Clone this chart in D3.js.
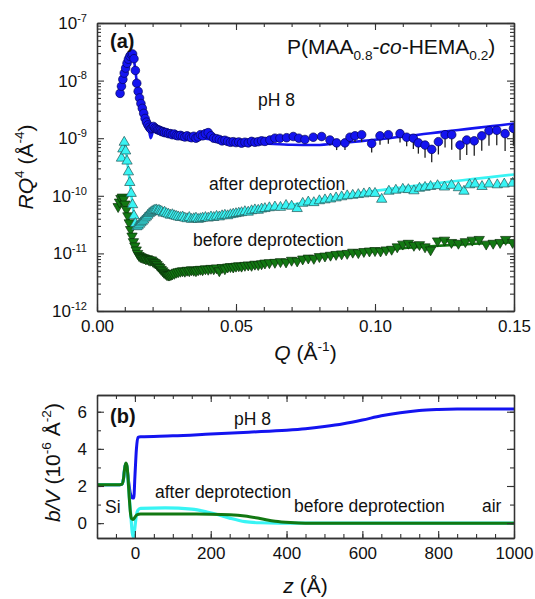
<!DOCTYPE html>
<html>
<head>
<meta charset="utf-8">
<script src="https://cdn.jsdelivr.net/npm/d3@7"></script>
<style>
body { margin: 0; background: #fff; }
text { font-family: "Liberation Sans", Arial, sans-serif; fill: #111; }
</style>
</head>
<body>
<div id="chart"></div>
<script>
// reflectivity data, [Q, RQ^4, relative lower error]
var ph8Data = [[0.0083,6.0e-9,0],[0.0088,8.0e-9,0],[0.0093,1.05e-8,0],[0.0098,1.35e-8,0],[0.0103,1.65e-8,0],[0.0108,2.0e-8,0],[0.0113,2.35e-8,0],[0.0118,2.65e-8,0],[0.0123,2.85e-8,0],[0.0128,2.9e-8,0],
  [0.0133,2.4e-8,0],[0.0138,1.5e-8,0],[0.0143,9.0e-9,0],[0.0148,6.5e-9,0],[0.0153,5.0e-9,0],[0.0158,4.0e-9,0],[0.0163,3.3e-9,0],[0.0168,2.7e-9,0],[0.0173,2.2e-9,0],[0.0178,1.9e-9,0],
  [0.0183,1.7e-9,0],[0.0188,1.55e-9,0],[0.0193,1.45e-9,0],[0.0198,1.5e-9,0],[0.0203,1.6e-9,0],[0.0208,1.5e-9,0],[0.0213,1.45e-9,0],[0.0218,1.4e-9,0],[0.0223,1.38e-9,0],[0.0228,1.35e-9,0],
  [0.0233,1.3e-9,0],[0.0238,1.3e-9,0],[0.0243,1.25e-9,0],[0.0250,1.25e-9,0],[0.0257,1.2e-9,0],[0.0264,1.2e-9,0],[0.0271,1.15e-9,0],[0.0278,1.18e-9,0],[0.0285,1.12e-9,0],[0.0292,1.1e-9,0],
  [0.0300,1.12e-9,0],[0.0308,1.08e-9,0],[0.0316,1.05e-9,0],[0.0324,1.1e-9,0],[0.0332,1.05e-9,0],[0.0340,1.02e-9,0],[0.0348,1.08e-9,0],[0.0356,1.0e-9,0],[0.0364,1.05e-9,0],[0.0372,1.15e-9,0],
  [0.0380,1.1e-9,0],[0.0390,1.2e-9,0],[0.0400,1.25e-9,0],[0.0410,1.1e-9,0],[0.0420,1.0e-9,0],[0.0430,0.98e-9,0],[0.0440,0.95e-9,0],[0.0450,0.9e-9,0],[0.0460,0.92e-9,0],[0.0470,0.88e-9,0],
  [0.0480,0.85e-9,0],[0.0490,0.87e-9,0],[0.0500,0.84e-9,0],[0.0510,0.86e-9,0],[0.0520,0.82e-9,0],[0.0532,0.85e-9,0],[0.0544,0.83e-9,0],[0.0556,0.88e-9,0],[0.0568,0.85e-9,0],[0.0580,0.87e-9,0],
  [0.0592,0.9e-9,0],[0.0604,0.88e-9,0],[0.0622,0.93e-9,0.1],[0.0640,1.0e-9,0.1],[0.0658,1.0e-9,0.1],[0.0682,1.02e-9,0.1],[0.0706,1.07e-9,0.12],[0.0726,1.0e-9,0.12],[0.0748,0.95e-9,0.15],[0.0778,1.04e-9,0.15],
  [0.0808,1.07e-9,0.15],[0.0838,0.93e-9,0.2],[0.0862,0.83e-9,0.25],[0.0892,0.83e-9,0.25],[0.0910,1.04e-9,0.2],[0.0928,1.1e-9,0.22],[0.0952,1.15e-9,0.25],[0.0988,0.81e-9,0.3],[0.1018,1.1e-9,0.3],[0.1048,1.15e-9,0.3],
  [0.1090,1.2e-9,0.3],[0.1114,1.04e-9,0.3],[0.1138,1.0e-9,0.35],[0.1156,0.83e-9,0.35],[0.1180,0.76e-9,0.4],[0.1204,0.64e-9,0.4],[0.1228,0.87e-9,0.4],[0.1252,1.15e-9,0.4],[0.1276,1.15e-9,0.45],[0.1306,0.76e-9,0.45],
  [0.1330,0.93e-9,0.45],[0.1357,0.9e-9,0.45],[0.1384,1.1e-9,0.45],[0.1410,1.35e-9,0.45],[0.1438,1.37e-9,0.45],[0.1468,1.2e-9,0.5],[0.1498,1.48e-9,0.5]];

var ph8Fit = [[0.0083,5.5e-9],[0.0095,1.15e-8],[0.0110,2.1e-8],[0.0122,2.8e-8],[0.0129,3.0e-8],[0.0136,1.8e-8],[0.0145,8.0e-9],[0.0155,4.3e-9],[0.0165,2.9e-9],[0.0175,2.0e-9],
  [0.0185,1.6e-9],[0.0193,1.0e-9],[0.0201,1.3e-9],[0.0210,1.6e-9],[0.0225,1.45e-9],[0.025,1.3e-9],[0.030,1.15e-9],[0.035,1.05e-9],[0.040,0.97e-9],[0.045,0.9e-9],
  [0.050,0.85e-9],[0.055,0.83e-9],[0.060,0.81e-9],[0.070,0.77e-9],[0.078,0.76e-9],[0.085,0.8e-9],[0.090,0.84e-9],[0.095,0.89e-9],[0.100,0.94e-9],[0.105,1.0e-9],
  [0.110,1.07e-9],[0.115,1.14e-9],[0.120,1.22e-9],[0.125,1.3e-9],[0.130,1.39e-9],[0.135,1.48e-9],[0.140,1.58e-9],[0.145,1.68e-9],[0.150,1.8e-9]];

var afterData = [[0.0088,4.5e-10],[0.0093,6.5e-10],[0.0098,8.5e-10],[0.0103,6.0e-10],[0.0108,4.0e-10],[0.0113,2.6e-10],[0.0118,1.7e-10],[0.0123,1.1e-10],[0.0128,7e-11],[0.0133,4.5e-11],
  [0.0138,3.3e-11],[0.0143,2.9e-11],[0.0148,3.0e-11],[0.0153,3.2e-11],[0.0158,3.4e-11],[0.0163,3.6e-11],[0.0168,3.8e-11],[0.0173,4.1e-11],[0.0178,4.3e-11],[0.0183,4.6e-11],
  [0.0188,4.9e-11],[0.0193,5.1e-11],[0.0198,5.3e-11],[0.0203,5.5e-11],[0.0208,5.6e-11],[0.0213,5.7e-11],[0.0218,5.5e-11],[0.0223,5.6e-11],[0.0228,5.4e-11],[0.0233,5.3e-11],
  [0.0238,5.0e-11],[0.0243,5.2e-11],[0.0250,4.9e-11],[0.0257,4.8e-11],[0.0264,4.6e-11],[0.0271,4.7e-11],[0.0278,4.5e-11],[0.0285,4.4e-11],[0.0292,4.3e-11],[0.0300,4.2e-11],
  [0.0308,4.3e-11],[0.0316,4.1e-11],[0.0324,4.0e-11],[0.0332,4.2e-11],[0.0340,3.9e-11],[0.0348,4.0e-11],[0.0356,4.1e-11],[0.0364,3.9e-11],[0.0372,4.0e-11],[0.0380,4.1e-11],
  [0.0390,4.2e-11],[0.0400,4.1e-11],[0.0410,4.3e-11],[0.0420,4.2e-11],[0.0430,4.4e-11],[0.0440,4.3e-11],[0.0450,4.5e-11],[0.0460,4.6e-11],[0.0470,4.5e-11],[0.0480,4.7e-11],
  [0.0490,4.8e-11],[0.0500,4.9e-11],[0.0510,5.0e-11],[0.0520,5.1e-11],[0.0532,5.3e-11],[0.0544,5.2e-11],[0.0556,5.5e-11],[0.0568,5.7e-11],[0.0580,5.6e-11],[0.0592,5.9e-11],
  [0.0604,6.0e-11],[0.0620,6.2e-11],[0.0640,6.4e-11],[0.0660,6.3e-11],[0.0680,6.8e-11],[0.0700,6.6e-11],[0.0720,6.0e-11],[0.0740,7.4e-11],[0.0760,7.8e-11],[0.0780,7.6e-11],
  [0.0800,8.2e-11],[0.0820,8.5e-11],[0.0840,8.8e-11],[0.0860,9.2e-11],[0.0880,9.6e-11],[0.0900,1.0e-10],[0.0920,1.02e-10],[0.0940,1.05e-10],[0.0960,1.08e-10],[0.0980,1.12e-10],
  [0.1000,1.1e-10],[0.1024,8.7e-11],[0.1050,1.2e-10],[0.1075,1.25e-10],[0.1100,1.3e-10],[0.1120,1.28e-10],[0.1140,1.22e-10],[0.1160,1.35e-10],[0.1180,1.4e-10],[0.1200,1.45e-10],
  [0.1225,1.5e-10],[0.1250,1.42e-10],[0.1275,1.52e-10],[0.1300,1.38e-10],[0.1320,1.2e-10],[0.1340,1.55e-10],[0.1360,1.6e-10],[0.1385,1.45e-10],[0.1410,1.6e-10],[0.1440,1.55e-10],
  [0.1465,1.6e-10],[0.1495,1.65e-10]];

var afterFit = [[0.0088,4.5e-10],[0.0098,8.5e-10],[0.0110,3.5e-10],[0.0125,9e-11],[0.0138,3.5e-11],[0.0150,3.0e-11],[0.0165,3.5e-11],[0.018,4.4e-11],[0.020,5.3e-11],[0.022,5.6e-11],
  [0.025,5.0e-11],[0.030,4.3e-11],[0.035,4.0e-11],[0.040,4.1e-11],[0.045,4.4e-11],[0.050,4.8e-11],[0.055,5.3e-11],[0.060,5.9e-11],[0.070,7.0e-11],[0.080,8.4e-11],
  [0.090,1.02e-10],[0.100,1.22e-10],[0.110,1.4e-10],[0.120,1.6e-10],[0.130,1.83e-10],[0.140,2.07e-10],[0.150,2.35e-10]];

var beforeData = [[0.0076,6.5e-11],[0.0081,7.8e-11],[0.0086,9.0e-11],[0.0091,9.5e-11],[0.0096,8.8e-11],[0.0101,7.2e-11],[0.0106,5.8e-11],[0.0111,4.5e-11],[0.0116,3.4e-11],[0.0121,2.6e-11],
  [0.0126,2.0e-11],[0.0131,1.6e-11],[0.0136,1.35e-11],[0.0141,1.15e-11],[0.0146,1.0e-11],[0.0151,9.2e-12],[0.0156,8.8e-12],[0.0161,8.6e-12],[0.0166,8.4e-12],[0.0171,8.3e-12],
  [0.0176,8.0e-12],[0.0181,8.1e-12],[0.0186,7.8e-12],[0.0191,7.6e-12],[0.0196,7.7e-12],[0.0201,7.3e-12],[0.0206,7.0e-12],[0.0211,6.8e-12],[0.0216,6.4e-12],[0.0221,6.0e-12],
  [0.0226,5.7e-12],[0.0231,5.3e-12],[0.0236,5.0e-12],[0.0241,4.7e-12],[0.0246,4.5e-12],[0.0251,4.3e-12],[0.0256,4.2e-12],[0.0261,4.2e-12],[0.0266,4.3e-12],[0.0271,4.4e-12],
  [0.0278,4.5e-12],[0.0285,4.7e-12],[0.0292,4.8e-12],[0.0300,4.9e-12],[0.0308,5.0e-12],[0.0316,4.9e-12],[0.0324,5.1e-12],[0.0332,5.0e-12],[0.0340,5.2e-12],[0.0348,5.1e-12],
  [0.0356,5.0e-12],[0.0364,5.2e-12],[0.0372,5.3e-12],[0.0380,5.2e-12],[0.0390,5.4e-12],[0.0400,5.3e-12],[0.0410,5.5e-12],[0.0420,5.4e-12],[0.0430,5.6e-12],[0.0440,5.0e-12],
  [0.0450,5.7e-12],[0.0460,5.4e-12],[0.0470,5.8e-12],[0.0480,5.9e-12],[0.0490,5.8e-12],[0.0500,6.0e-12],[0.0510,6.1e-12],[0.0520,6.0e-12],[0.0532,6.2e-12],[0.0544,6.3e-12],
  [0.0556,6.2e-12],[0.0568,6.5e-12],[0.0580,6.4e-12],[0.0592,6.6e-12],[0.0604,6.8e-12],[0.0620,6.9e-12],[0.0640,7.0e-12],[0.0660,7.2e-12],[0.0680,7.1e-12],[0.0700,7.6e-12],
  [0.0720,7.4e-12],[0.0740,8.0e-12],[0.0760,8.3e-12],[0.0780,8.2e-12],[0.0800,8.8e-12],[0.0820,9.0e-12],[0.0840,9.3e-12],[0.0860,9.6e-12],[0.0880,9.8e-12],[0.0900,1.0e-11],
  [0.0920,1.05e-11],[0.0940,1.03e-11],[0.0960,1.08e-11],[0.0980,1.1e-11],[0.1000,1.12e-11],[0.1020,1.1e-11],[0.1040,1.15e-11],[0.1060,1.18e-11],[0.1080,1.3e-11],[0.1100,1.45e-11],
  [0.1120,1.5e-11],[0.1140,1.38e-11],[0.1160,1.42e-11],[0.1180,1.3e-11],[0.1200,1.15e-11],[0.1225,1.65e-11],[0.1250,1.7e-11],[0.1275,1.55e-11],[0.1300,1.5e-11],[0.1325,1.6e-11],
  [0.1350,1.7e-11],[0.1375,1.75e-11],[0.1400,1.45e-11],[0.1425,1.5e-11],[0.1450,1.55e-11],[0.1470,1.75e-11],[0.1495,1.55e-11]];

var beforeFit = [[0.0076,6.5e-11],[0.0090,9.5e-11],[0.0100,7.5e-11],[0.0115,3.5e-11],[0.0130,1.6e-11],[0.0145,1.0e-11],[0.016,8.6e-12],[0.019,7.8e-12],[0.022,6.0e-12],[0.025,4.4e-12],
  [0.027,4.3e-12],[0.030,4.8e-12],[0.035,5.1e-12],[0.040,5.3e-12],[0.050,5.9e-12],[0.060,6.7e-12],[0.070,7.6e-12],[0.080,8.6e-12],[0.090,9.8e-12],[0.100,1.1e-11],
  [0.110,1.23e-11],[0.120,1.33e-11],[0.130,1.42e-11],[0.140,1.5e-11],[0.150,1.55e-11]];

// scattering length density profiles, [z, b/V]
var ph8Profile = [[-100,2.07],[-40,2.07],[-34,2.1],[-30,2.4],[-27,2.95],[-24,3.2],[-21,3.0],[-17,2.3],[-12,1.6],[-6,1.35],[-3,1.35],[0,2.5],[4,4.0],[8,4.62],[15,4.65],
  [100,4.7],[200,4.8],[300,4.9],[400,5.0],[450,5.08],[500,5.2],[550,5.35],[600,5.55],[650,5.78],[700,5.95],[750,6.07],[800,6.12],[850,6.14],[1000,6.14]];
var afterProfile = [[-100,2.07],[-40,2.07],[-34,2.1],[-30,2.4],[-27,2.95],[-24,3.2],[-21,3.05],[-18,2.3],[-14,1.2],[-10,0.2],[-7,-0.5],[-4,-0.76],[-1,-0.4],[3,0.3],[8,0.7],
  [15,0.8],[80,0.82],[150,0.75],[190,0.6],[220,0.45],[250,0.27],[290,0.08],[330,0.02],[380,0],[1000,0]];
var beforeProfile = [[-100,2.07],[-40,2.07],[-34,2.1],[-30,2.4],[-27,2.95],[-24,3.24],[-21,3.1],[-18,2.4],[-15,1.4],[-12,0.6],[-9,0.25],[-5,0.2],[0,0.32],[5,0.45],[15,0.49],
  [100,0.49],[200,0.48],[250,0.45],[290,0.38],[330,0.25],[370,0.1],[410,0.03],[450,0],[1000,0]];

var qTicks = [0, 0.05, 0.10, 0.15];
var decadeTicks = [1e-12, 1e-11, 1e-10, 1e-9, 1e-8, 1e-7];
var zTicks = [0, 200, 400, 600, 800, 1000];
var sldTicks = [0, 2, 4, 6];

var blueCol = "#1414f0", cyanCol = "#38f4f4", greenCol = "#127812";

var svgWidth = 535, svgHeight = 599;
var svg = d3.select("#chart").append("svg").attr("width", svgWidth).attr("height", svgHeight);

// panel geometry
var left = 97, right = 514;
var topA = 23, botA = 311;
var topB = 395, botB = 538;

var xQ = d3.scaleLinear().domain([0, 0.15]).range([left, right]);
var yR = d3.scaleLog().domain([1e-12, 1e-7]).range([botA, topA]);
var xZ = d3.scaleLinear().domain([-100, 1000]).range([left, right]);
var yS = d3.scaleLinear().domain([-0.8, 6.9]).range([botB, topB]);

// helper for text with super/subscripts
function richText(sel, parts, size) {
  var shift = 0;
  parts.forEach(function(p) {
    var target = 0, fs = size;
    if (p.sup) { target = -size * 0.42; fs = size * 0.65; }
    if (p.sub) { target = size * 0.28; fs = size * 0.65; }
    var t = sel.append("tspan").text(p.t).attr("dy", target - shift).style("font-size", fs + "px");
    if (p.it) t.style("font-style", "italic");
    shift = target;
  });
  return sel;
}

function styleAxis(g) {
  g.selectAll("path.domain").attr("stroke", "#333").attr("stroke-width", 1.3);
  g.selectAll(".tick line").attr("stroke", "#333").attr("stroke-width", 1.1);
  g.selectAll(".tick text").style("font-size", "17px").style("font-family", "Liberation Sans, Arial, sans-serif").attr("fill", "#111");
}

// draws inward ticks on all four sides
function frame(x, y, x0, x1, y0, y1, xMajor, xMinor, yMajor, yMinor, xFmt) {
  var g = svg.append("g");
  g.append("g").attr("transform", `translate(0,${y0})`)
    .call(d3.axisBottom(x).tickValues(xMinor).tickSize(-4).tickSizeOuter(0).tickFormat("")).call(styleAxis);
  g.append("g").attr("transform", `translate(0,${y0})`)
    .call(d3.axisBottom(x).tickValues(xMajor).tickSize(-7).tickSizeOuter(0).tickPadding(9).tickFormat(xFmt)).call(styleAxis);
  g.append("g").attr("transform", `translate(0,${y1})`)
    .call(d3.axisTop(x).tickValues(xMinor).tickSize(-4).tickSizeOuter(0).tickFormat("")).call(styleAxis);
  g.append("g").attr("transform", `translate(0,${y1})`)
    .call(d3.axisTop(x).tickValues(xMajor).tickSize(-7).tickSizeOuter(0).tickFormat("")).call(styleAxis);
  g.append("g").attr("transform", `translate(${x0},0)`)
    .call(d3.axisLeft(y).tickValues(yMinor).tickSize(-4).tickSizeOuter(0).tickFormat("")).call(styleAxis);
  g.append("g").attr("transform", `translate(${x0},0)`)
    .call(d3.axisLeft(y).tickValues(yMajor).tickSize(-7).tickSizeOuter(0).tickFormat("")).call(styleAxis);
  g.append("g").attr("transform", `translate(${x1},0)`)
    .call(d3.axisRight(y).tickValues(yMinor).tickSize(-4).tickSizeOuter(0).tickFormat("")).call(styleAxis);
  g.append("g").attr("transform", `translate(${x1},0)`)
    .call(d3.axisRight(y).tickValues(yMajor).tickSize(-7).tickSizeOuter(0).tickFormat("")).call(styleAxis);
  return g;
}

// ---------- panel (a) ----------
svg.append("clipPath").attr("id", "clipA").append("rect")
  .attr("x", left).attr("y", topA).attr("width", right - left).attr("height", botA - topA);
var plotA = svg.append("g").attr("clip-path", "url(#clipA)");

var lineQ = d3.line().x(d => xQ(d[0])).y(d => yR(d[1])).curve(d3.curveMonotoneX);

plotA.append("path").datum(beforeFit).attr("d", lineQ).attr("fill", "none").attr("stroke", greenCol).attr("stroke-width", 2.6);
plotA.append("path").datum(afterFit).attr("d", lineQ).attr("fill", "none").attr("stroke", cyanCol).attr("stroke-width", 2.6);
plotA.append("path").datum(ph8Fit).attr("d", lineQ).attr("fill", "none").attr("stroke", blueCol).attr("stroke-width", 2.6);

var tri = d3.symbol().type(d3.symbolTriangle).size(46);

plotA.selectAll(".before").data(beforeData).enter().append("path").attr("class", "before")
  .attr("d", tri).attr("transform", d => `translate(${xQ(d[0])},${yR(d[1])}) rotate(180)`)
  .attr("fill", greenCol).attr("stroke", "#0a300a").attr("stroke-width", 0.7);

plotA.selectAll(".after").data(afterData).enter().append("path").attr("class", "after")
  .attr("d", tri).attr("transform", d => `translate(${xQ(d[0])},${yR(d[1])})`)
  .attr("fill", cyanCol).attr("stroke", "#245656").attr("stroke-width", 0.7);

// error bars for pH 8
plotA.selectAll(".err").data(ph8Data.filter(d => d[2] > 0)).enter().append("line").attr("class", "err")
  .attr("x1", d => xQ(d[0])).attr("x2", d => xQ(d[0]))
  .attr("y1", d => yR(d[1])).attr("y2", d => yR(d[1] * (1 - d[2])))
  .attr("stroke", "#222").attr("stroke-width", 1.3);

plotA.selectAll(".ph8").data(ph8Data).enter().append("circle").attr("class", "ph8")
  .attr("cx", d => xQ(d[0])).attr("cy", d => yR(d[1])).attr("r", 4.3)
  .attr("fill", blueCol).attr("stroke", "#05055a").attr("stroke-width", 0.7);

var frameA = frame(xQ, yR, left, right, botA, topA, qTicks, d3.range(0, 0.1501, 0.01),
  decadeTicks, yR.ticks().filter(v => decadeTicks.indexOf(v) < 0), d3.format(".2f"));

// log labels with superscripts
decadeTicks.forEach(function(v) {
  var t = svg.append("text").attr("x", left - 10).attr("y", yR(v) + 6).attr("text-anchor", "end");
  richText(t, [{t: "10"}, {t: "-" + Math.round(-Math.log10(v)), sup: 1}], 17);
});

richText(svg.append("text").attr("transform", `translate(33,${(topA + botA) / 2}) rotate(-90)`).attr("text-anchor", "middle"),
  [{t: "RQ", it: 1}, {t: "4", sup: 1}, {t: " (Å"}, {t: "-4", sup: 1}, {t: ")"}], 21);
richText(svg.append("text").attr("x", (left + right) / 2).attr("y", 360).attr("text-anchor", "middle"),
  [{t: "Q", it: 1}, {t: " (Å"}, {t: "-1", sup: 1}, {t: ")"}], 21);

svg.append("text").attr("x", 110).attr("y", 48).style("font-size", "20px").style("font-weight", "bold").text("(a)");
richText(svg.append("text").attr("x", 287).attr("y", 54),
  [{t: "P(MAA"}, {t: "0.8", sub: 1}, {t: "-"}, {t: "co", it: 1}, {t: "-HEMA"}, {t: "0.2", sub: 1}, {t: ")"}], 21);
svg.append("text").attr("x", 258).attr("y", 106).style("font-size", "17.5px").text("pH 8");
svg.append("text").attr("x", 209).attr("y", 190).style("font-size", "17.5px").text("after deprotection");
svg.append("text").attr("x", 193).attr("y", 246).style("font-size", "17.5px").text("before deprotection");

// ---------- panel (b) ----------
svg.append("clipPath").attr("id", "clipB").append("rect")
  .attr("x", left).attr("y", topB).attr("width", right - left).attr("height", botB - topB);
var plotB = svg.append("g").attr("clip-path", "url(#clipB)");

var lineZ = d3.line().x(d => xZ(d[0])).y(d => yS(d[1])).curve(d3.curveMonotoneX);
plotB.append("path").datum(ph8Profile).attr("d", lineZ).attr("fill", "none").attr("stroke", blueCol).attr("stroke-width", 3);
plotB.append("path").datum(afterProfile).attr("d", lineZ).attr("fill", "none").attr("stroke", cyanCol).attr("stroke-width", 3.2);
plotB.append("path").datum(beforeProfile).attr("d", lineZ).attr("fill", "none").attr("stroke", greenCol).attr("stroke-width", 3);

var frameB = frame(xZ, yS, left, right, botB, topB, zTicks, d3.range(-100, 1001, 50),
  sldTicks, d3.range(-0, 7, 1), d3.format("d"));

sldTicks.forEach(function(v) {
  svg.append("text").attr("x", left - 10).attr("y", yS(v) + 6).attr("text-anchor", "end").style("font-size", "17px").text(v);
});

richText(svg.append("text").attr("transform", `translate(60,${(topB + botB) / 2 - 4}) rotate(-90)`).attr("text-anchor", "middle"),
  [{t: "b/V", it: 1}, {t: " (10"}, {t: "-6", sup: 1}, {t: " Å"}, {t: "-2", sup: 1}, {t: ")"}], 21);
richText(svg.append("text").attr("x", (left + right) / 2).attr("y", 593).attr("text-anchor", "middle"),
  [{t: "z", it: 1}, {t: " (Å)"}], 21);

svg.append("text").attr("x", 110).attr("y", 423).style("font-size", "20px").style("font-weight", "bold").text("(b)");
svg.append("text").attr("x", 234).attr("y", 425).style("font-size", "17.5px").text("pH 8");
svg.append("text").attr("x", 155).attr("y", 498).style("font-size", "17.5px").text("after deprotection");
svg.append("text").attr("x", 294).attr("y", 512).style("font-size", "17.5px").text("before deprotection");
svg.append("text").attr("x", 482).attr("y", 512).style("font-size", "17.5px").text("air");
svg.append("text").attr("x", 105).attr("y", 513).style("font-size", "17.5px").text("Si");
</script>
</body>
</html>
